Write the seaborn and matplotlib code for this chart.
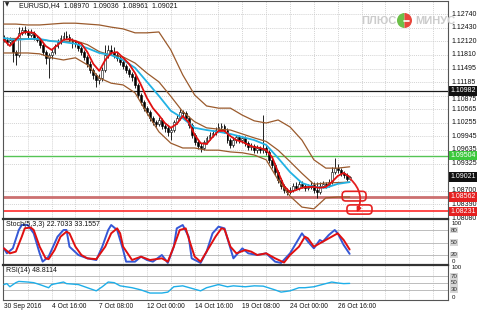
import numpy as np
import matplotlib
matplotlib.use("Agg")
import matplotlib.pyplot as plt
import matplotlib.transforms as mtransforms
from matplotlib.patches import FancyBboxPatch, Wedge
import seaborn as sns

sns.set_style("white")
plt.rcParams['font.family'] = ['Liberation Sans', 'DejaVu Sans']

# ---------------- data ----------------
first_open = 1.1220
closes = [1.1215, 1.1210, 1.1215, 1.1187, 1.1180, 1.1231, 1.1238, 1.1233, 1.1226, 1.1231,
          1.1219, 1.1215, 1.1203, 1.1187, 1.1174, 1.1180, 1.1187, 1.1201, 1.1210, 1.1219,
          1.1224, 1.1222, 1.1215, 1.1210, 1.1206, 1.1196, 1.1187, 1.1176, 1.1160, 1.1146,
          1.1135, 1.1123, 1.1128, 1.1146, 1.1180, 1.1192, 1.1187, 1.1180, 1.1174, 1.1164,
          1.1155, 1.1146, 1.1137, 1.1130, 1.1112, 1.1089, 1.1073, 1.1059, 1.1050, 1.1036,
          1.1027, 1.1023, 1.1032, 1.1018, 1.1014, 1.1005, 1.1009, 1.1027, 1.1036, 1.1050,
          1.1048, 1.1036, 1.1021, 1.0998, 1.0982, 1.0973, 1.0968, 1.0982, 1.0991, 1.0998,
          1.1002, 1.1009, 1.1016, 1.1018, 1.1009, 1.0986, 1.0975, 1.0986, 1.0993, 1.0986,
          1.0991, 1.0979, 1.0970, 1.0973, 1.0963, 1.0968, 1.0963, 1.0968, 1.0959, 1.0941,
          1.0929, 1.0913, 1.0895, 1.0881, 1.0872, 1.0867, 1.0872, 1.0881, 1.0877, 1.0886,
          1.0881, 1.0877, 1.0879, 1.0883, 1.0872, 1.0867, 1.0881, 1.0886, 1.0883, 1.0890,
          1.0913, 1.0922, 1.0918, 1.0911, 1.0906, 1.0897, 1.0902]
highs = [1.1226, 1.1221, 1.1222, 1.1219, 1.1192, 1.1244, 1.1245, 1.1246, 1.1240, 1.1240,
         1.1236, 1.1224, 1.1219, 1.1207, 1.1192, 1.1186, 1.1194, 1.1206, 1.1216, 1.1226,
         1.1233, 1.1235, 1.1228, 1.1220, 1.1215, 1.1210, 1.1201, 1.1192, 1.1180, 1.1166,
         1.1151, 1.1140, 1.1137, 1.1153, 1.1203, 1.1203, 1.1203, 1.1199, 1.1187, 1.1180,
         1.1169, 1.1160, 1.1151, 1.1142, 1.1135, 1.1117, 1.1094, 1.1078, 1.1064, 1.1055,
         1.1041, 1.1032, 1.1039, 1.1036, 1.1023, 1.1018, 1.1016, 1.1032, 1.1043, 1.1057,
         1.1055, 1.1052, 1.1041, 1.1025, 1.1002, 1.0986, 1.0979, 1.0986, 1.0996, 1.1004,
         1.1009, 1.1016, 1.1025, 1.1025, 1.1023, 1.1014, 1.0991, 1.0993, 1.0998, 1.0998,
         1.0996, 1.0995, 1.0984, 1.0979, 1.0977, 1.0975, 1.0973, 1.1043, 1.0975, 1.0963,
         1.0946, 1.0934, 1.0918, 1.0900, 1.0886, 1.0877, 1.0879, 1.0888, 1.0890, 1.0893,
         1.0892, 1.0886, 1.0886, 1.0893, 1.0890, 1.0890, 1.0890, 1.0893, 1.0890, 1.0897,
         1.0925, 1.0945, 1.0932, 1.0923, 1.0915, 1.0910, 1.0904]
lows = [1.1209, 1.1203, 1.1205, 1.1164, 1.1158, 1.1176, 1.1225, 1.1228, 1.1220, 1.1221,
        1.1214, 1.1209, 1.1197, 1.1180, 1.1160, 1.1128, 1.1172, 1.1182, 1.1196, 1.1205,
        1.1214, 1.1216, 1.1209, 1.1196, 1.1199, 1.1190, 1.1180, 1.1169, 1.1153, 1.1139,
        1.1126, 1.1107, 1.1115, 1.1122, 1.1141, 1.1174, 1.1180, 1.1174, 1.1167, 1.1157,
        1.1148, 1.1139, 1.1130, 1.1121, 1.1105, 1.1082, 1.1066, 1.1052, 1.1043, 1.1029,
        1.1020, 1.1016, 1.1018, 1.1011, 1.1005, 1.0995, 1.0986, 1.1004, 1.1022, 1.1032,
        1.1041, 1.1030, 1.1014, 1.0991, 1.0975, 1.0966, 1.0959, 1.0964, 1.0977, 1.0986,
        1.0993, 1.0998, 1.1004, 1.1009, 1.1002, 1.0979, 1.0968, 1.0970, 1.0980, 1.0979,
        1.0980, 1.0973, 1.0963, 1.0964, 1.0957, 1.0957, 1.0956, 1.0957, 1.0952, 1.0934,
        1.0922, 1.0906, 1.0888, 1.0874, 1.0865, 1.0861, 1.0862, 1.0868, 1.0872, 1.0872,
        1.0876, 1.0870, 1.0872, 1.0874, 1.0865, 1.0854, 1.0862, 1.0876, 1.0877, 1.0878,
        1.0886, 1.0908, 1.0911, 1.0904, 1.0900, 1.0893, 1.0896]

# fast MA (red), sampled every 2 bars
fast_bars = list(range(0, 117, 2))
ma_fast = [1.1215, 1.1201, 1.1215, 1.1231, 1.1233, 1.1231, 1.1219, 1.1201, 1.1192, 1.1203,
           1.1215, 1.1217, 1.1212, 1.1206, 1.1187, 1.1160, 1.1144, 1.1169, 1.1185, 1.1187,
           1.1174, 1.1160, 1.1139, 1.1112, 1.1082, 1.1059, 1.1043, 1.1025, 1.1014, 1.1023,
           1.1041, 1.1027, 1.0998, 1.0979, 1.0977, 1.0993, 1.1007, 1.1007, 1.0995, 1.0986,
           1.0982, 1.0975, 1.0970, 1.0968, 1.0963, 1.0947, 1.0913, 1.0881, 1.0867, 1.0872,
           1.0877, 1.0879, 1.0879, 1.0877, 1.0879, 1.0890, 1.0904, 1.0911, 1.0902]
# slow MA (cyan) and Bollinger bands, sampled every 4 bars
band_bars = list(range(0, 117, 4))
ma_slow = [1.1219, 1.1215, 1.1217, 1.1217, 1.1212, 1.1210, 1.1206, 1.1196, 1.1185, 1.1180,
           1.1169, 1.1151, 1.1119, 1.1087, 1.1053, 1.1036, 1.1014, 1.1009, 1.1005, 1.1000,
           1.0993, 1.0986, 1.0975, 1.0945, 1.0913, 1.0888, 1.0879, 1.0877, 1.0886, 1.0890]
bb_upper = [1.1251, 1.1251, 1.1249, 1.1249, 1.1251, 1.1253, 1.1253, 1.1251, 1.1249, 1.1244,
            1.1240, 1.1231, 1.1231, 1.1233, 1.1192, 1.1135, 1.1089, 1.1064, 1.1059, 1.1059,
            1.1043, 1.1030, 1.1025, 1.1032, 1.1016, 1.0986, 1.0941, 1.0922, 1.0922, 1.0925]
bb_mid = [1.1218, 1.1218, 1.1217, 1.1216, 1.1212, 1.1211, 1.1213, 1.1204, 1.1188, 1.1180,
          1.1176, 1.1162, 1.1139, 1.1119, 1.1086, 1.1051, 1.1028, 1.1014, 1.1011, 1.1009,
          1.1000, 1.0991, 1.0983, 1.0963, 1.0937, 1.0910, 1.0885, 1.0888, 1.0889, 1.0890]
bb_lower = [1.1185, 1.1185, 1.1185, 1.1183, 1.1174, 1.1169, 1.1174, 1.1158, 1.1128, 1.1116,
            1.1112, 1.1094, 1.1048, 1.1005, 1.0979, 1.0968, 1.0968, 1.0963, 1.0963, 1.0959,
            1.0957, 1.0952, 1.0941, 1.0895, 1.0858, 1.0833, 1.0829, 1.0854, 1.0856, 1.0856]

stoch_k_bars = [0, 1, 3, 5, 6, 8, 10, 12, 13, 15, 18, 20, 21, 22, 25, 28, 31, 33, 35, 36,
                38, 40, 41, 44, 46, 48, 50, 53, 55, 57, 58, 60, 62, 63, 66, 68, 70, 72, 74, 76,
                77, 80, 82, 85, 88, 91, 93, 96, 98, 100, 102, 104, 106, 107, 109, 111, 112, 114, 116]
stoch_k = [36, 24, 36, 80, 92, 92, 72, 24, 4, 16, 64, 80, 80, 40, 20, 12, 8, 40, 80, 92,
           80, 32, 4, 4, 16, 8, 4, 20, 1, 40, 84, 92, 64, 12, 1, 28, 72, 88, 84, 36,
           12, 36, 24, 20, 24, 4, 1, 24, 48, 72, 52, 36, 56, 52, 68, 80, 72, 44, 22.7]
stoch_d_bars = [0, 2, 4, 6, 7, 9, 10, 12, 14, 15, 17, 19, 21, 22, 24, 26, 28, 31, 34, 36,
                38, 39, 40, 43, 46, 49, 53, 55, 57, 59, 61, 62, 64, 66, 68, 71, 73, 74, 76, 78,
                81, 83, 85, 88, 91, 94, 96, 99, 101, 102, 104, 106, 109, 111, 112, 114, 116]
stoch_d = [36, 24, 28, 64, 84, 86, 80, 40, 12, 10, 32, 64, 76, 72, 40, 20, 12, 10, 40, 72,
           84, 72, 40, 8, 16, 8, 12, 4, 40, 80, 84, 60, 16, 4, 28, 64, 84, 82, 40, 24,
           32, 28, 20, 24, 12, 2, 20, 40, 64, 60, 40, 48, 60, 68, 72, 56, 33.2]
rsi_bars = [0, 1, 2, 4, 5, 8, 10, 12, 15, 16, 20, 21, 25, 28, 31, 33, 35, 37, 39, 43,
            46, 49, 53, 55, 57, 60, 63, 66, 68, 72, 75, 77, 81, 84, 87, 91, 93, 96, 99, 101,
            104, 106, 110, 112, 114, 116]
rsi_vals = [45.3, 48.1, 38.6, 51, 54.8, 52.9, 51, 45.3, 35.7, 45.3, 52.9, 48.1, 45.3, 35.7,
            26.2, 38.6, 52.9, 51, 41.4, 35.7, 29, 19.6, 19.6, 22.4, 38.6, 41.4, 33.8, 26.2,
            35.7, 45.3, 38.6, 41.4, 38.6, 41.4, 40.5, 29, 22.4, 26.2, 35.7, 35.7, 38.6, 43.4,
            52.9, 50, 48.1, 48.8]

price_ticks = [1.12740, 1.12430, 1.12120, 1.11810, 1.11495, 1.11185, 1.10875, 1.10565,
               1.10255, 1.09945, 1.09635, 1.09325, 1.08700, 1.08390, 1.08080]
level_black = 1.10982
level_green = 1.09504
level_rose = 1.08562
level_red = 1.08231
last_price = 1.09021
title_text = "EURUSD,H4  1.08970  1.09036  1.08961  1.09021"
stoch_text = "Stoch(5,3,3) 22.7033 33.1557"
rsi_text = "RSI(14) 48.8114"
date_ticks = [0, 16, 32, 48, 64, 80, 96, 112]
date_labels = ["30 Sep 2016", "4 Oct 16:00", "7 Oct 08:00", "12 Oct 00:00",
               "14 Oct 16:00", "19 Oct 08:00", "24 Oct 00:00", "26 Oct 16:00"]

# ---------------- figure ----------------
W, H = 480, 310
fig = plt.figure(figsize=(4.8, 3.1), dpi=100)
fig.patch.set_facecolor('white')
FS = 5
FS_SMALL = 4.4


def ax_px(l, t, r, b):
    return fig.add_axes([l / W, 1 - b / H, (r - l) / W, (b - t) / H])


ax = ax_px(3, 1, 448, 219)
ax_st = ax_px(3, 219, 448, 265)
ax_rsi = ax_px(3, 265, 448, 300)

XMIN, XMAX = -0.3, 149.0
for a in (ax, ax_st, ax_rsi):
    a.set_xlim(XMIN, XMAX)
    a.set_facecolor('white')
    for s in a.spines.values():
        s.set_color('#555555')
        s.set_linewidth(0.8)
    a.set_xticks([])
    a.set_yticks([])
    for g in range(8, 149, 8):
        a.axvline(g, color='#c4c4c4', lw=0.5, ls=(0, (1.5, 1.5)), zorder=0)
for a in (ax_st, ax_rsi):
    a.spines['top'].set_linewidth(1.6)
    a.spines['top'].set_color('#333333')


def rtrans(a):
    return mtransforms.blended_transform_factory(a.transAxes, a.transData)


def rtext(a, y, text, va='center', fs=FS):
    a.text(1.008, y, text, transform=rtrans(a), ha='left', va=va, fontsize=fs,
           color='#111111', clip_on=False, zorder=15)


def rlabel(a, y, text, fc, tc='white', fs=FS, pad=0.18):
    a.text(1.006, y, text, transform=rtrans(a), ha='left', va='center', fontsize=fs,
           color=tc, clip_on=False, zorder=20,
           bbox=dict(boxstyle=f'square,pad={pad}', fc=fc, ec='none'))


# ---- main panel ----
ax.set_ylim(1.08058, 1.13037)
boxed_levels = [level_black, level_green, last_price, level_rose, level_red]
for v in price_ticks:
    ax.axhline(v, color='#c4c4c4', lw=0.5, ls=(0, (1.5, 1.5)), zorder=0)
    near = [b for b in boxed_levels if abs(b - v) < 0.0012]
    if near and near[0] > v:
        rtext(ax, v, f"{v:.5f}", va='top')
    else:
        rtext(ax, v, f"{v:.5f}")

ax.axhline(level_black, color='#1a1a1a', lw=0.9, zorder=2)
ax.axhline(level_green, color='#55c455', lw=1.0, zorder=2)
ax.axhline(level_rose, color='#cc7070', lw=2.0, zorder=2)
ax.axhline(level_red, color='#ff2a2a', lw=1.2, zorder=2)

idx = np.arange(len(closes))
c = np.array(closes)
o = np.array([first_open] + closes[:-1])
h = np.array(highs)
lo = np.array(lows)
ax.vlines(idx, lo, h, color='black', lw=0.6, zorder=3)
body_lo = np.minimum(o, c)
body_h = np.maximum(np.abs(c - o), 0.00006)
up = c >= o
ax.bar(idx[up], body_h[up], bottom=body_lo[up], width=0.62, color='white',
       edgecolor='black', linewidth=0.4, zorder=4)
ax.bar(idx[~up], body_h[~up], bottom=body_lo[~up], width=0.62, color='black',
       edgecolor='black', linewidth=0.4, zorder=4)

brown = '#9a5a2c'
sns.lineplot(x=band_bars, y=bb_upper, ax=ax, color=brown, linewidth=0.9, zorder=5)
sns.lineplot(x=band_bars, y=bb_mid, ax=ax, color=brown, linewidth=0.9, zorder=5)
sns.lineplot(x=band_bars, y=bb_lower, ax=ax, color=brown, linewidth=0.9, zorder=5)
sns.lineplot(x=band_bars, y=ma_slow, ax=ax, color='#22b2e4', linewidth=1.3, zorder=6)
sns.lineplot(x=fast_bars, y=ma_fast, ax=ax, color='#e01010', linewidth=1.3, zorder=7)
ax.set_xlabel('')
ax.set_ylabel('')

rlabel(ax, level_black, f"{level_black:.5f}", '#111111')
rlabel(ax, level_green, f"{level_green:.5f}", '#3cc83c')
rlabel(ax, last_price, f"{last_price:.5f}", '#111111')
rlabel(ax, level_rose, f"{level_rose:.5f}", '#e52020')
rlabel(ax, level_red, f"{level_red:.5f}", '#e52020')

# annotation boxes + arrow
asp = 0.00068
for (x0, x1, y0, y1) in [(113.5, 121.5, 1.0847, 1.0869), (115.1, 123.5, 1.0817, 1.0838)]:
    ax.add_patch(FancyBboxPatch((x0, y0), x1 - x0, y1 - y0,
                                boxstyle='round,pad=0,rounding_size=1.2',
                                mutation_aspect=asp, fc='none', ec='#e52020', lw=1.2,
                                zorder=9, clip_on=False))
ax.annotate('', xy=(118.4, 1.0821), xytext=(116.3, 1.0897),
            arrowprops=dict(arrowstyle='-|>', color='#e52020', lw=1.3, mutation_scale=6,
                            connectionstyle='arc3,rad=-0.35', shrinkA=0, shrinkB=0),
            zorder=10)

ax.text(0.004, 0.993, "\u25bc", transform=ax.transAxes, ha='left', va='top',
        fontsize=4, color='#222222', family=['DejaVu Sans'])
ax.text(0.035, 0.993, title_text, transform=ax.transAxes, ha='left', va='top',
        fontsize=FS, color='#111111')

# watermark
fig.text(361 / W, 1 - 21 / H, "ПЛЮС", fontsize=8, color='#cccccc', weight='bold',
         ha='left', va='center', zorder=1)
fig.text(415 / W, 1 - 21 / H, "МИНУС", fontsize=8, color='#cccccc', weight='bold',
         ha='left', va='center', zorder=1)
ax_logo = fig.add_axes([397 / W, 1 - 28 / H, 15 / W, 15 / H])
ax_logo.set_xlim(-1, 1)
ax_logo.set_ylim(-1, 1)
ax_logo.set_aspect('equal')
ax_logo.axis('off')
ax_logo.add_patch(Wedge((0, 0), 1, 90, 270, fc='#6cbf48', ec='none'))
ax_logo.add_patch(Wedge((0, 0), 1, -90, 90, fc='#e8463c', ec='none'))
ax_logo.plot([-0.1, 0.55], [0, 0], color='white', lw=1.2)

# ---- stochastic ----
ax_st.set_ylim(-4, 106.4)
for lv in (80, 50, 20):
    ax_st.axhline(lv, color='#bcbcbc', lw=0.7, zorder=1)
sns.lineplot(x=stoch_k_bars, y=stoch_k, ax=ax_st, color='#3558d6', linewidth=1.4, zorder=3)
sns.lineplot(x=stoch_d_bars, y=stoch_d, ax=ax_st, color='#e01010', linewidth=1.4, zorder=4)
rtext(ax_st, 102, "100", va='top', fs=FS_SMALL)
rtext(ax_st, -2, "0", va='bottom', fs=FS_SMALL)
for lv in (80, 50, 20):
    rlabel(ax_st, lv, str(lv), '#d6d6d6', tc='#333333', fs=FS_SMALL, pad=0.1)
ax_st.text(0.006, 0.95, stoch_text, transform=ax_st.transAxes, ha='left', va='top',
           fontsize=FS, color='#111111')
ax_st.set_xlabel('')
ax_st.set_ylabel('')

# ---- RSI ----
ax_rsi.set_ylim(-1.5, 104.5)
for lv in (70, 50, 30):
    ax_rsi.axhline(lv, color='#bcbcbc', lw=0.7, zorder=1)
sns.lineplot(x=rsi_bars, y=rsi_vals, ax=ax_rsi, color='#1eaee8', linewidth=1.0, zorder=3)
rtext(ax_rsi, 104, "100", va='top', fs=FS_SMALL)
rtext(ax_rsi, -1, "0", va='bottom', fs=FS_SMALL)
for lv in (70, 50, 30):
    rlabel(ax_rsi, lv, str(lv), '#d6d6d6', tc='#333333', fs=FS_SMALL, pad=0.1)
ax_rsi.text(0.006, 0.95, rsi_text, transform=ax_rsi.transAxes, ha='left', va='top',
            fontsize=FS, color='#111111')
ax_rsi.set_xlabel('')
ax_rsi.set_ylabel('')
ax_rsi.set_xlim(XMIN, XMAX)
ax_rsi.set_xticks(date_ticks)
ax_rsi.set_xticklabels(date_labels, ha='left')
ax_rsi.tick_params(axis='x', length=1.5, pad=0.5, labelsize=4.8, colors='#111111')

fig.savefig("out.png", dpi=100, facecolor='white')
